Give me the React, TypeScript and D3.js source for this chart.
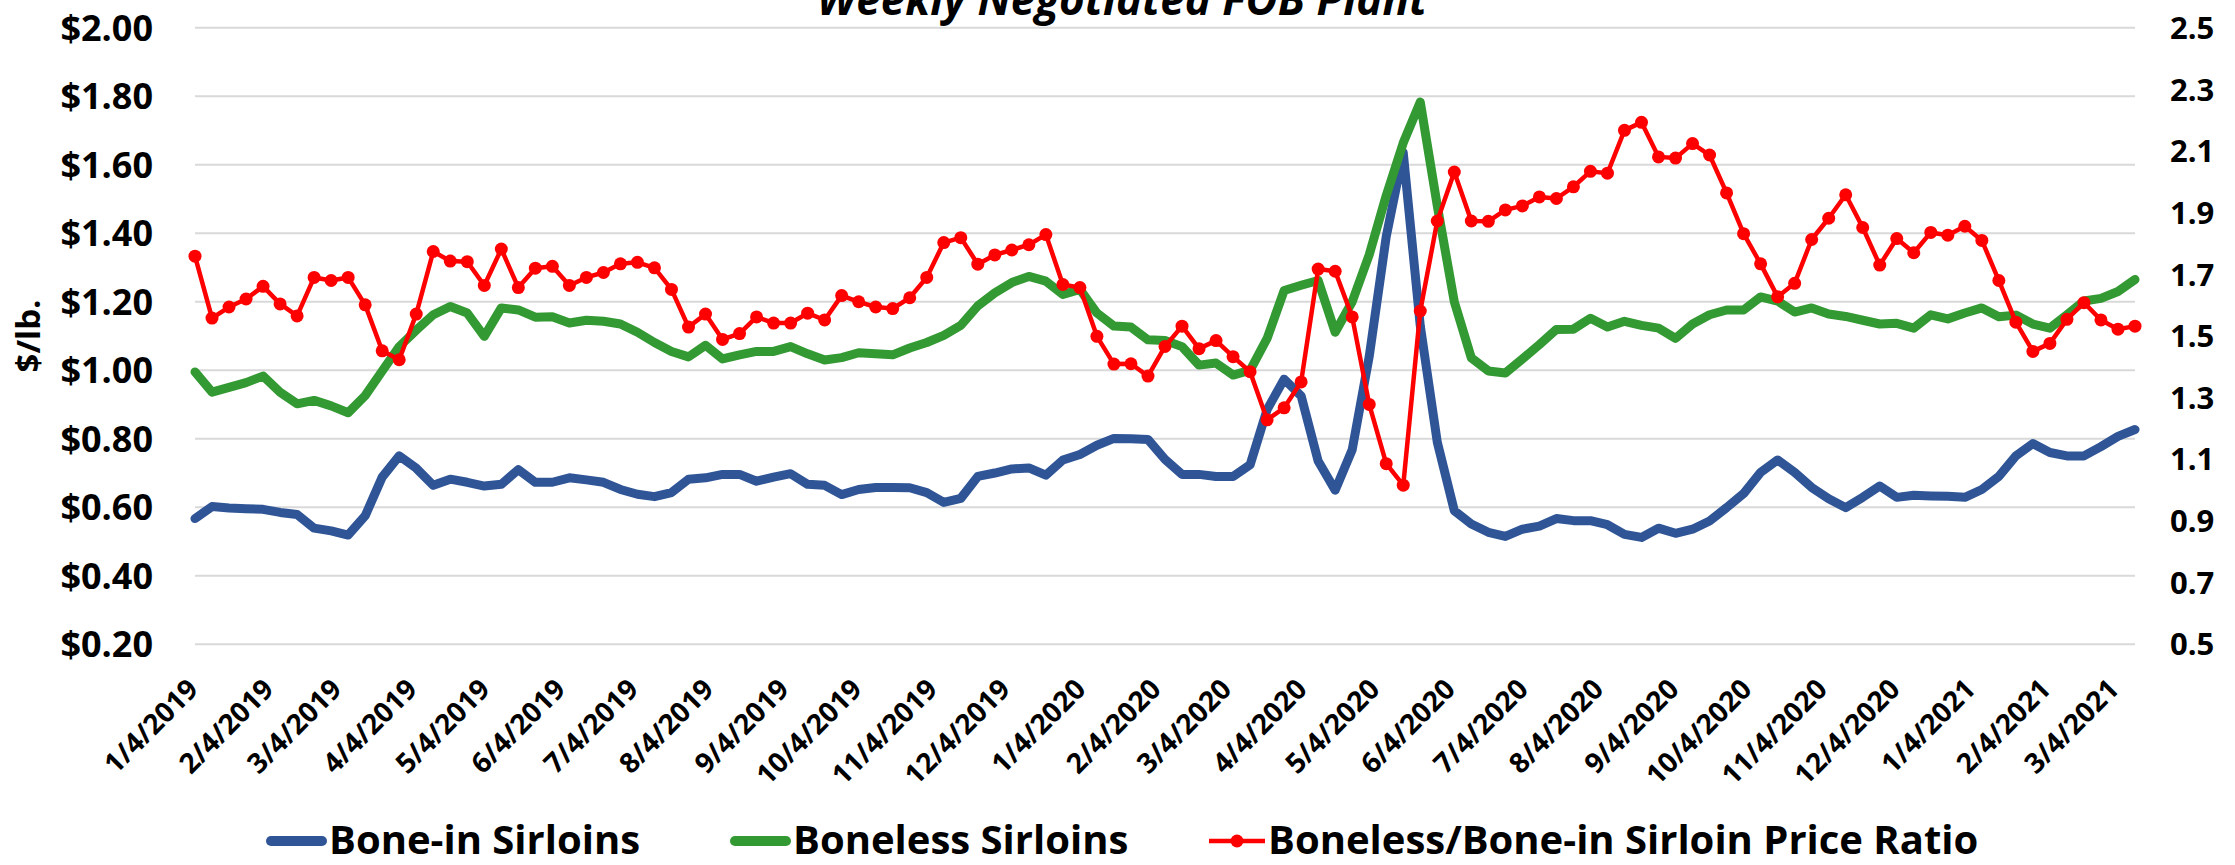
import React from "react";
import * as d3 from "d3";

// ---------- data ----------
const START_DATE = new Date(2019, 0, 4); // first weekly observation (Friday)
const WEEK_COUNT = 115;

const boneInSirloins: number[] = [
  0.567, 0.602, 0.598, 0.596, 0.594, 0.585, 0.579, 0.539, 0.531, 0.519,
  0.575, 0.688, 0.750, 0.714, 0.664, 0.682, 0.673, 0.662, 0.667, 0.710,
  0.673, 0.673, 0.686, 0.680, 0.673, 0.652, 0.638, 0.631, 0.643, 0.682,
  0.686, 0.696, 0.696, 0.676, 0.688, 0.698, 0.667, 0.664, 0.637, 0.652,
  0.658, 0.658, 0.657, 0.643, 0.614, 0.626, 0.690, 0.700, 0.712, 0.715,
  0.694, 0.738, 0.754, 0.781, 0.801, 0.800, 0.798, 0.740, 0.696, 0.696,
  0.690, 0.690, 0.724, 0.885, 0.974, 0.925, 0.735, 0.650, 0.768, 1.040,
  1.390, 1.635, 1.130, 0.790, 0.590, 0.551, 0.527, 0.515, 0.536, 0.545,
  0.567, 0.561, 0.561, 0.549, 0.521, 0.512, 0.539, 0.524, 0.536, 0.560,
  0.599, 0.640, 0.702, 0.738, 0.702, 0.658, 0.625, 0.599, 0.629, 0.662,
  0.629, 0.635, 0.633, 0.632, 0.629, 0.652, 0.690, 0.750, 0.786, 0.760,
  0.750, 0.750, 0.777, 0.807, 0.827,
];

const bonelessSirloins: number[] = [
  0.995, 0.936, 0.950, 0.964, 0.983, 0.936, 0.902, 0.912, 0.896, 0.876,
  0.926, 0.998, 1.069, 1.117, 1.162, 1.186, 1.167, 1.099, 1.182, 1.176,
  1.155, 1.156, 1.138, 1.146, 1.143, 1.135, 1.111, 1.081, 1.055, 1.039,
  1.073, 1.033, 1.045, 1.055, 1.055, 1.069, 1.048, 1.030, 1.037, 1.051,
  1.048, 1.045, 1.065, 1.081, 1.102, 1.131, 1.188, 1.226, 1.256, 1.274,
  1.260, 1.221, 1.236, 1.167, 1.129, 1.126, 1.089, 1.087, 1.069, 1.015,
  1.021, 0.986, 1.000, 1.093, 1.233, 1.248, 1.262, 1.111, 1.200, 1.337,
  1.510, 1.664, 1.783, 1.480, 1.200, 1.036, 0.998, 0.992, 1.033, 1.075,
  1.119, 1.120, 1.152, 1.126, 1.143, 1.131, 1.123, 1.093, 1.135, 1.162,
  1.176, 1.176, 1.214, 1.202, 1.170, 1.182, 1.164, 1.157, 1.146, 1.135,
  1.137, 1.123, 1.162, 1.150, 1.167, 1.182, 1.156, 1.161, 1.135, 1.123,
  1.162, 1.202, 1.210, 1.230, 1.265,
];

const priceRatio: number[] = [
  1.759, 1.558, 1.594, 1.620, 1.661, 1.604, 1.565, 1.690, 1.680, 1.690,
  1.601, 1.452, 1.423, 1.571, 1.774, 1.743, 1.741, 1.664, 1.782, 1.657,
  1.720, 1.726, 1.664, 1.690, 1.706, 1.734, 1.739, 1.721, 1.651, 1.529,
  1.571, 1.489, 1.508, 1.562, 1.542, 1.542, 1.574, 1.552, 1.631, 1.611,
  1.594, 1.589, 1.624, 1.690, 1.803, 1.819, 1.733, 1.763, 1.779, 1.796,
  1.829, 1.667, 1.657, 1.499, 1.409, 1.410, 1.370, 1.466, 1.532, 1.459,
  1.485, 1.433, 1.384, 1.228, 1.267, 1.351, 1.717, 1.710, 1.562, 1.278,
  1.086, 1.016, 1.581, 1.873, 2.032, 1.873, 1.872, 1.909, 1.922, 1.951,
  1.946, 1.984, 2.034, 2.028, 2.167, 2.193, 2.081, 2.077, 2.124, 2.087,
  1.964, 1.832, 1.734, 1.627, 1.671, 1.813, 1.882, 1.958, 1.852, 1.730,
  1.816, 1.770, 1.836, 1.827, 1.856, 1.810, 1.680, 1.545, 1.450, 1.476,
  1.554, 1.608, 1.552, 1.522, 1.532,
];

const xTickLabels: string[] = [
  "1/4/2019", "2/4/2019", "3/4/2019", "4/4/2019", "5/4/2019", "6/4/2019",
  "7/4/2019", "8/4/2019", "9/4/2019", "10/4/2019", "11/4/2019", "12/4/2019",
  "1/4/2020", "2/4/2020", "3/4/2020", "4/4/2020", "5/4/2020", "6/4/2020",
  "7/4/2020", "8/4/2020", "9/4/2020", "10/4/2020", "11/4/2020", "12/4/2020",
  "1/4/2021", "2/4/2021", "3/4/2021",
];
const leftTicks: number[] = [0.2, 0.4, 0.6, 0.8, 1.0, 1.2, 1.4, 1.6, 1.8, 2.0];
const rightTicks: number[] = [0.5, 0.7, 0.9, 1.1, 1.3, 1.5, 1.7, 1.9, 2.1, 2.3, 2.5];

const TITLE = "Weekly Negotiated FOB Plant";
const Y_TITLE = "$/lb.";
const SERIES_NAMES = [
  "Bone-in Sirloins",
  "Boneless Sirloins",
  "Boneless/Bone-in Sirloin Price Ratio",
];

// ---------- layout ----------
const W = 2235;
const H = 865;
const PLOT_LEFT = 195;
const PLOT_RIGHT = 2135;
const PLOT_TOP = 27.7;
const PLOT_BOTTOM = 644.3;

const BLUE = "#2F5597";
const GREEN = "#339933";
const RED = "#FF0000";
const FONT = "'Open Sans', 'DejaVu Sans', sans-serif";

export default function App() {
  const dates = d3.range(WEEK_COUNT).map((i) => d3.timeDay.offset(START_DATE, i * 7));
  const x = d3
    .scaleTime()
    .domain([dates[0], dates[dates.length - 1]])
    .range([PLOT_LEFT, PLOT_RIGHT]);
  const yL = d3.scaleLinear().domain([0.2, 2.0]).range([PLOT_BOTTOM, PLOT_TOP]);
  const yR = d3.scaleLinear().domain([0.5, 2.5]).range([PLOT_BOTTOM, PLOT_TOP]);

  const lineL = d3
    .line<number>()
    .x((_, i) => x(dates[i]))
    .y((d) => yL(d));
  const lineR = d3
    .line<number>()
    .x((_, i) => x(dates[i]))
    .y((d) => yR(d));

  const parse = d3.timeParse("%m/%d/%Y");
  const fmtL = d3.format("$.2f");
  const fmtR = d3.format(".1f");

  const legendY = 841;
  const legendBase = 854;

  return (
    <svg
      width={W}
      height={H}
      viewBox={`0 0 ${W} ${H}`}
      style={{ position: "absolute", left: 0, top: 0, display: "block", background: "#fff" }}
      fontFamily={FONT}
      fontWeight={700}
    >
      <rect x={0} y={0} width={W} height={H} fill="#fff" />

      {/* title (cut off at the top like the reference) */}
      <text x={1122} y={15} textAnchor="middle" fontSize={44} fontStyle="italic" fill="#000">
        {TITLE}
      </text>

      {/* gridlines */}
      {leftTicks.map((t) => (
        <line
          key={"g" + t}
          x1={PLOT_LEFT}
          x2={PLOT_RIGHT}
          y1={yL(t)}
          y2={yL(t)}
          stroke="#D9D9D9"
          strokeWidth={2}
        />
      ))}

      {/* left axis labels */}
      {leftTicks.map((t) => (
        <text key={"l" + t} x={153} y={yL(t)} dy="0.36em" textAnchor="end" fontSize={36} fill="#000">
          {fmtL(t)}
        </text>
      ))}

      {/* right axis labels */}
      {rightTicks.map((t) => (
        <text key={"r" + t} x={2170} y={yR(t)} dy="0.36em" textAnchor="start" fontSize={31} fill="#000">
          {fmtR(t)}
        </text>
      ))}

      {/* y-axis title */}
      <text
        transform={`translate(28,336) rotate(-90)`}
        textAnchor="middle"
        dy="0.36em"
        fontSize={33}
        fill="#000"
      >
        {Y_TITLE}
      </text>

      {/* x tick labels */}
      {xTickLabels.map((lab) => {
        const d = parse(lab) as Date;
        const tx = x(d);
        return (
          <text
            key={lab}
            transform={`translate(${tx - 2},684) rotate(-45)`}
            textAnchor="end"
            dy="0.35em"
            fontSize={28}
            fill="#000"
          >
            {lab}
          </text>
        );
      })}

      {/* series */}
      <path
        d={lineL(boneInSirloins) || ""}
        fill="none"
        stroke={BLUE}
        strokeWidth={9}
        strokeLinejoin="round"
        strokeLinecap="round"
      />
      <path
        d={lineL(bonelessSirloins) || ""}
        fill="none"
        stroke={GREEN}
        strokeWidth={9}
        strokeLinejoin="round"
        strokeLinecap="round"
      />
      <path
        d={lineR(priceRatio) || ""}
        fill="none"
        stroke={RED}
        strokeWidth={4.5}
        strokeLinejoin="round"
      />
      {priceRatio.map((v, i) => (
        <circle key={"m" + i} cx={x(dates[i])} cy={yR(v)} r={6.5} fill={RED} />
      ))}

      {/* legend */}
      <line x1={271} x2={322} y1={legendY} y2={legendY} stroke={BLUE} strokeWidth={10} strokeLinecap="round" />
      <text x={329} y={legendBase} fontSize={40} fill="#000">
        {SERIES_NAMES[0]}
      </text>
      <line x1={735} x2={786} y1={legendY} y2={legendY} stroke={GREEN} strokeWidth={10} strokeLinecap="round" />
      <text x={793} y={legendBase} fontSize={40} fill="#000">
        {SERIES_NAMES[1]}
      </text>
      <line x1={1209} x2={1265} y1={legendY} y2={legendY} stroke={RED} strokeWidth={4.5} />
      <circle cx={1237} cy={legendY} r={6.5} fill={RED} />
      <text x={1268} y={legendBase} fontSize={40} fill="#000">
        {SERIES_NAMES[2]}
      </text>
    </svg>
  );
}
